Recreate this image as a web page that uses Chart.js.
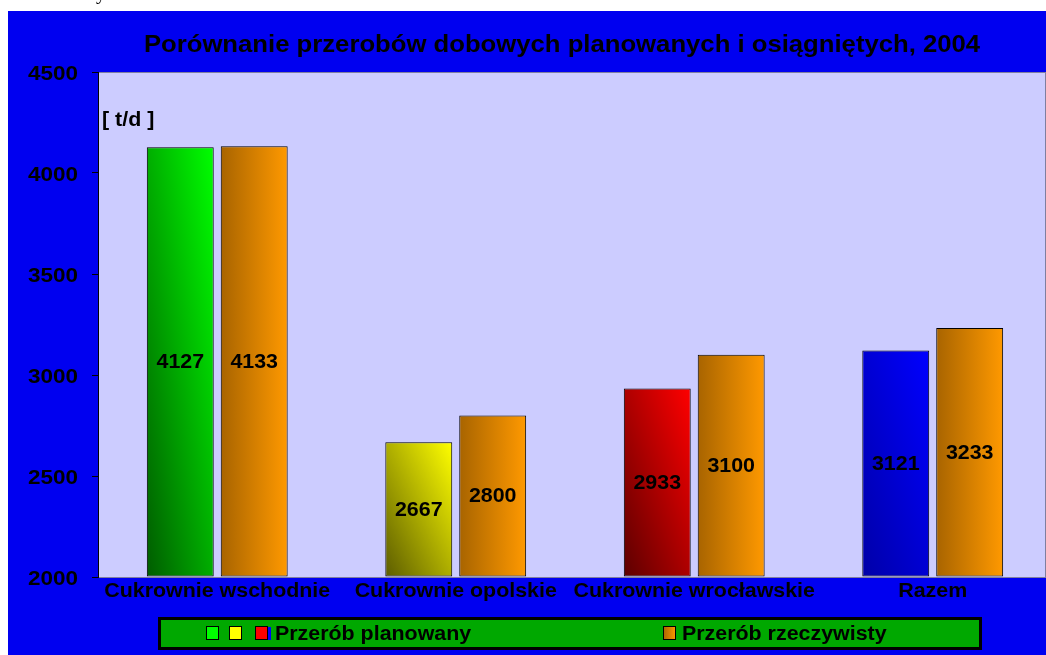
<!DOCTYPE html>
<html>
<head>
<meta charset="utf-8">
<script src="https://cdn.jsdelivr.net/npm/chart.js@4/dist/chart.umd.min.js"></script>
<style>
  html, body { margin: 0; padding: 0; background: #ffffff; }
  canvas { display: block; }
</style>
</head>
<body>
<canvas id="canvas" width="1046" height="655"></canvas>
<script>
"use strict";

const categories = ["Cukrownie wschodnie", "Cukrownie opolskie", "Cukrownie wrocławskie", "Razem"];
const planned = [4127, 2667, 2933, 3121];
const actual = [4133, 2800, 3100, 3233];
const yTicks = [2000, 2500, 3000, 3500, 4000, 4500];
const seriesNames = ["Przerób planowany", "Przerób rzeczywisty"];
const chartTitle = "Porównanie przerobów dobowych planowanych i osiągniętych, 2004";
const unitLabel = "[ t/d ]";

// kolory słupków planowanych: ciemny dół-lewo -> jasny góra-prawo
const plannedDark = ["#005c00", "#5c5c00", "#5c0000", "#0000a8"];
const plannedLight = ["#00ff00", "#ffff00", "#ff0000", "#0000ff"];
const actualDark = "#a86400";
const actualLight = "#ff9900";

const FONT = "'Liberation Sans', Arial, sans-serif";
const STRETCH = 1.07; // tekst w oryginale jest lekko rozciągnięty w poziomie
const CAT_PCT = 0.62;
const BAR_PCT = 0.905;

const canvas = document.getElementById("canvas");
const ctx = canvas.getContext("2d");

const drawText = (c, text, x, y, align, baseline, font) => {
  c.save();
  c.font = font;
  c.textAlign = align;
  c.textBaseline = baseline;
  c.translate(x, y);
  c.scale(STRETCH, 1);
  c.fillText(text, 0, 0);
  c.restore();
};

// prostokąt słupka liczony ze skal (potrzebny do gradientu przed ułożeniem elementów)
const barRect = (chart, di, i, v) => {
  const xs = chart.scales.x;
  const ys = chart.scales.y;
  const cat = Math.abs(xs.getPixelForValue(1) - xs.getPixelForValue(0));
  const slot = (cat * CAT_PCT) / 2;
  const cx = xs.getPixelForValue(i) + (di - 0.5) * slot;
  const w = slot * BAR_PCT;
  return { x0: cx - w / 2, x1: cx + w / 2, y0: ys.getPixelForValue(v), y1: ys.getPixelForValue(ys.min) };
};

const diagonalGradient = (c, r, dark, light) => {
  const w = r.x1 - r.x0;
  const h = r.y1 - r.y0;
  const k = (2 * w * h) / (w * w + h * h);
  const g = c.createLinearGradient(r.x0, r.y1, r.x0 + h * k, r.y1 - w * k);
  g.addColorStop(0, dark);
  g.addColorStop(1, light);
  return g;
};

const plannedFill = (context) => {
  const chart = context.chart;
  if (!chart.chartArea) return plannedLight[context.dataIndex];
  const r = barRect(chart, 0, context.dataIndex, context.raw);
  return diagonalGradient(chart.ctx, r, plannedDark[context.dataIndex], plannedLight[context.dataIndex]);
};

const actualFill = (context) => {
  const chart = context.chart;
  if (!chart.chartArea) return actualLight;
  const r = barRect(chart, 1, context.dataIndex, context.raw);
  const g = chart.ctx.createLinearGradient(r.x0, 0, r.x1, 0);
  g.addColorStop(0, actualDark);
  g.addColorStop(1, actualLight);
  return g;
};

const background = {
  id: "background",
  beforeDraw(chart) {
    const c = chart.ctx;
    const a = chart.chartArea;
    c.save();
    c.fillStyle = "#ffffff";
    c.fillRect(0, 0, chart.width, chart.height);
    // kawałek tekstu ze strony nad wykresem
    c.fillStyle = "#000000";
    c.font = "20px 'Liberation Serif', serif";
    c.fillText("y", 96, -1);
    c.fillStyle = "#0000f0";
    c.fillRect(8, 11, chart.width - 8, chart.height - 11);
    c.fillStyle = "#ccccff";
    c.fillRect(a.left, a.top, a.right - a.left, a.bottom - a.top);
    c.strokeStyle = "#7f7fa0";
    c.lineWidth = 1;
    c.strokeRect(a.left + 0.5, a.top + 0.5, a.right - a.left - 1, a.bottom - a.top);
    c.restore();
  },
  afterDraw(chart) {
    const c = chart.ctx;
    c.save();
    c.fillStyle = "#000000";
    drawText(c, chartTitle, 562, 52, "center", "alphabetic", "bold 24px " + FONT);
    drawText(c, unitLabel, 102, 126, "left", "alphabetic", "bold 20px " + FONT);
    const ys = chart.scales.y;
    yTicks.forEach((v) => {
      drawText(c, String(v), 78, ys.getPixelForValue(v) + 2, "right", "middle", "bold 21px " + FONT);
    });
    const xs = chart.scales.x;
    categories.forEach((name, i) => {
      drawText(c, name, xs.getPixelForValue(i), 597, "center", "alphabetic", "bold 20px " + FONT);
    });
    c.restore();
  },
};

const valueLabels = {
  id: "valueLabels",
  afterDatasetsDraw(chart) {
    const c = chart.ctx;
    c.save();
    c.fillStyle = "#000000";
    chart.data.datasets.forEach((ds, di) => {
      chart.getDatasetMeta(di).data.forEach((el, i) => {
        drawText(c, String(ds.data[i]), el.x, (el.y + el.base) / 2 + 1, "center", "middle", "bold 20px " + FONT);
      });
    });
    c.restore();
  },
};

const legendBox = {
  id: "legendBox",
  afterDraw(chart) {
    const c = chart.ctx;
    c.save();
    c.fillStyle = "#00a800";
    c.fillRect(159, 618, 821, 30);
    c.strokeStyle = "#000000";
    c.lineWidth = 3;
    c.strokeRect(159.5, 618.5, 821, 30);

    const square = (x, fill) => {
      c.fillStyle = fill;
      c.fillRect(x, 626, 13, 14);
      c.lineWidth = 1;
      c.strokeStyle = "#000000";
      c.strokeRect(x + 0.5, 626.5, 12, 13);
    };
    square(206, plannedLight[0]);
    square(229, plannedLight[1]);
    c.fillStyle = plannedLight[3];
    c.fillRect(258, 627, 13, 13);
    square(255, plannedLight[2]);
    const og = c.createLinearGradient(663, 0, 676, 0);
    og.addColorStop(0, actualDark);
    og.addColorStop(1, actualLight);
    square(663, og);

    c.fillStyle = "#000000";
    drawText(c, seriesNames[0], 275, 640, "left", "alphabetic", "bold 20px " + FONT);
    drawText(c, seriesNames[1], 682, 640, "left", "alphabetic", "bold 20px " + FONT);
    c.restore();
  },
};

const config = {
  type: "bar",
  data: {
    labels: categories,
    datasets: [
      {
        label: seriesNames[0],
        data: planned,
        backgroundColor: plannedFill,
        borderColor: "#000000",
        borderWidth: 1,
        borderSkipped: false,
        base: yTicks[0],
        categoryPercentage: CAT_PCT,
        barPercentage: BAR_PCT,
      },
      {
        label: seriesNames[1],
        data: actual,
        backgroundColor: actualFill,
        borderColor: "#000000",
        borderWidth: 1,
        borderSkipped: false,
        base: yTicks[0],
        categoryPercentage: CAT_PCT,
        barPercentage: BAR_PCT,
      },
    ],
  },
  plugins: [background, valueLabels, legendBox],
  options: {
    responsive: false,
    animation: false,
    devicePixelRatio: 1,
    layout: {
      padding: { top: 72, right: 0, bottom: 0, left: 0 },
    },
    plugins: {
      legend: { display: false },
      title: { display: false },
      tooltip: { enabled: false },
    },
    scales: {
      x: {
        grid: { display: false, drawTicks: false },
        border: { display: false },
        ticks: { display: false, autoSkip: false },
        // obszar wykresu w oryginale jest ucięty z prawej strony,
        // więc ostatnia kategoria kończy się poza płótnem
        afterBuildTicks: (scale) => {
          scale._valueRange = categories.length - 0.025;
        },
        afterFit: (scale) => {
          scale.height = 78;
        },
      },
      y: {
        min: yTicks[0],
        max: yTicks[yTicks.length - 1],
        afterBuildTicks: (scale) => {
          scale.ticks = yTicks.map((v) => ({ value: v }));
        },
        grid: {
          drawOnChartArea: false,
          drawTicks: true,
          tickLength: 6,
          color: "#000000",
        },
        border: { display: true, color: "#000000" },
        ticks: { display: false },
        afterFit: (scale) => {
          scale.width = 98;
        },
      },
    },
  },
};

const barChart = new Chart(ctx, config);
</script>
</body>
</html>
